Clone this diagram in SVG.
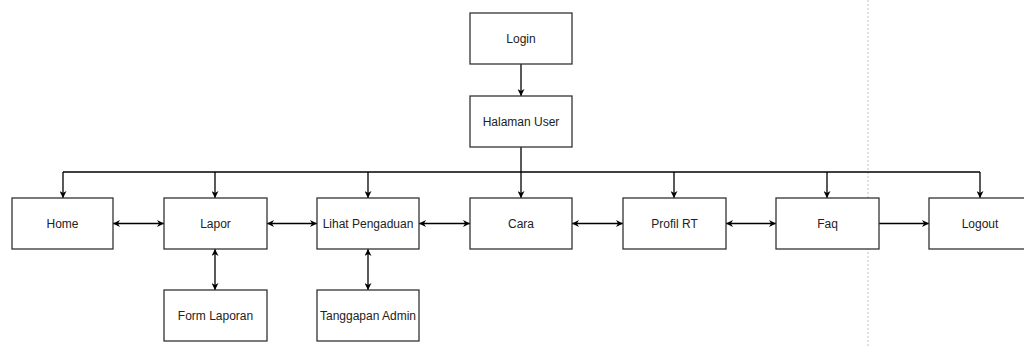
<svg xmlns="http://www.w3.org/2000/svg" width="1024" height="347" viewBox="0 0 1024 347">
<defs>
<marker id="arr" viewBox="0 0 10 10" refX="10" refY="5" markerWidth="7" markerHeight="7" orient="auto-start-reverse" markerUnits="userSpaceOnUse">
<path d="M0,0 L10,5 L0,10 L3,5 Z" fill="#000"/>
</marker>
<style>
.box{fill:#fff;stroke:#333;stroke-width:1.3}
.lbl{font-family:"Liberation Sans",Arial,sans-serif;font-size:12px;fill:#222;text-anchor:middle;dominant-baseline:central}
.c{fill:none;stroke:#000;stroke-width:1.3}
</style>
</defs>
<rect width="1024" height="347" fill="#fff"/>
<line x1="868" y1="0" x2="868" y2="347" stroke="#ccc" stroke-width="1.2" stroke-dasharray="2,2"/>
<g id="connectors">
<line class="c" x1="521" y1="64" x2="521" y2="96" marker-end="url(#arr)"/>
<line class="c" x1="521" y1="147" x2="521" y2="172"/>
<line class="c" x1="63" y1="172" x2="980" y2="172"/>
<line class="c" x1="63" y1="172" x2="63" y2="198" marker-end="url(#arr)"/>
<line class="c" x1="215" y1="172" x2="215" y2="198" marker-end="url(#arr)"/>
<line class="c" x1="368" y1="172" x2="368" y2="198" marker-end="url(#arr)"/>
<line class="c" x1="521" y1="172" x2="521" y2="198" marker-end="url(#arr)"/>
<line class="c" x1="674" y1="172" x2="674" y2="198" marker-end="url(#arr)"/>
<line class="c" x1="827" y1="172" x2="827" y2="198" marker-end="url(#arr)"/>
<line class="c" x1="980" y1="172" x2="980" y2="198" marker-end="url(#arr)"/>
<line class="c" x1="113" y1="223.5" x2="164" y2="223.5" marker-start="url(#arr)" marker-end="url(#arr)"/>
<line class="c" x1="267" y1="223.5" x2="317" y2="223.5" marker-start="url(#arr)" marker-end="url(#arr)"/>
<line class="c" x1="419" y1="223.5" x2="470" y2="223.5" marker-start="url(#arr)" marker-end="url(#arr)"/>
<line class="c" x1="572" y1="223.5" x2="623" y2="223.5" marker-start="url(#arr)" marker-end="url(#arr)"/>
<line class="c" x1="726" y1="223.5" x2="776" y2="223.5" marker-start="url(#arr)" marker-end="url(#arr)"/>
<line class="c" x1="879" y1="223.5" x2="929" y2="223.5" marker-end="url(#arr)"/>
<line class="c" x1="215" y1="249" x2="215" y2="290" marker-start="url(#arr)" marker-end="url(#arr)"/>
<line class="c" x1="368" y1="249" x2="368" y2="290" marker-start="url(#arr)" marker-end="url(#arr)"/>
</g>
<g id="login"><rect class="box" x="470" y="13" width="102" height="51"/><text class="lbl" x="521" y="39">Login</text></g>
<g id="halaman-user"><rect class="box" x="470" y="96" width="102" height="51"/><text class="lbl" x="521" y="122">Halaman User</text></g>
<g id="home"><rect class="box" x="12" y="198" width="101" height="51"/><text class="lbl" x="62.5" y="224">Home</text></g>
<g id="lapor"><rect class="box" x="164" y="198" width="103" height="51"/><text class="lbl" x="215.5" y="224">Lapor</text></g>
<g id="lihat-pengaduan"><rect class="box" x="317" y="198" width="102" height="51"/><text class="lbl" x="368" y="224">Lihat Pengaduan</text></g>
<g id="cara"><rect class="box" x="470" y="198" width="102" height="51"/><text class="lbl" x="521" y="224">Cara</text></g>
<g id="profil-rt"><rect class="box" x="623" y="198" width="103" height="51"/><text class="lbl" x="674.5" y="224">Profil RT</text></g>
<g id="faq"><rect class="box" x="776" y="198" width="103" height="51"/><text class="lbl" x="827.5" y="224">Faq</text></g>
<g id="logout"><rect class="box" x="929" y="198" width="102" height="51"/><text class="lbl" x="980" y="224">Logout</text></g>
<g id="form-laporan"><rect class="box" x="164" y="290" width="103" height="51"/><text class="lbl" x="215.5" y="316">Form Laporan</text></g>
<g id="tanggapan-admin"><rect class="box" x="317" y="290" width="102" height="51"/><text class="lbl" x="368" y="316">Tanggapan Admin</text></g>
</svg>
